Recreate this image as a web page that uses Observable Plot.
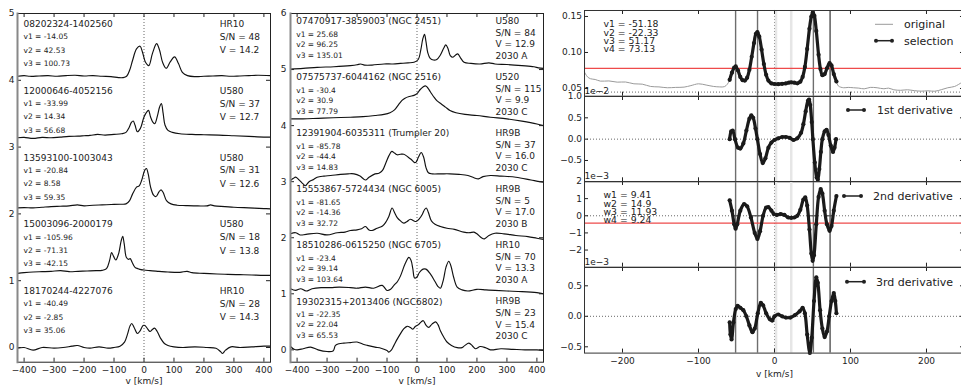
<!DOCTYPE html>
<html><head><meta charset="utf-8">
<script src="https://cdn.jsdelivr.net/npm/d3@7"></script>
<script src="https://cdn.jsdelivr.net/npm/@observablehq/plot@0.6"></script>
<style>
body{margin:0;background:#fff;}
#fig{position:relative;width:961px;height:386px;overflow:hidden;font-family:"DejaVu Sans",sans-serif;background:#fff;}
#fig svg{position:absolute;}
</style></head><body><div id="fig"></div>
<script>
// ---------- tick values ----------
const vTicks = [-400,-300,-200,-100,0,100,200,300,400];
const leftYTicks = [0,1,2,3,4,5];
const midYTicks = [0,1,2,3,4,5,6];
const rightVTicks = [-200,-100,0,100,200];

// ---------- left panel ----------
const leftIds = ["08202324-1402560","12000646-4052156","13593100-1003043","15003096-2000179","18170244-4227076"];
const leftV1 = [-14.05,-33.99,-20.84,-105.96,-40.49];
const leftV2 = [42.53,14.34,8.58,-71.31,-2.85];
const leftV3 = [100.73,56.68,59.35,-42.15,35.06];
const leftSetup = ["HR10","U580","U580","U580","HR10"];
const leftSN = [48,37,31,18,28];
const leftVmag = ["14.2","12.7","12.6","13.8","14.3"];
const leftOffsets = [4,3,2,1,0];

const spec08202324 = [[-422,4.06],[-400,4.07],[-380,4.06],[-350,4.065],[-320,4.07],[-290,4.06],[-260,4.07],[-230,4.075],[-200,4.065],[-170,4.07],[-140,4.06],[-110,4.055],[-85,4.04],[-70,4.04],[-58,4.06],[-48,4.15],[-38,4.3],[-25,4.47],[-13,4.51],[-5,4.42],[5,4.27],[16,4.22],[28,4.4],[42,4.55],[52,4.45],[62,4.27],[74,4.18],[88,4.28],[102,4.35],[115,4.25],[128,4.12],[145,4.07],[170,4.055],[200,4.06],[230,4.065],[260,4.07],[290,4.06],[320,4.065],[350,4.07],[380,4.075],[422,4.07]];
const spec12000646 = [[-422,3.14],[-400,3.145],[-370,3.13],[-340,3.145],[-310,3.14],[-280,3.15],[-250,3.16],[-220,3.165],[-200,3.17],[-180,3.175],[-155,3.19],[-130,3.18],[-100,3.19],[-75,3.2],[-60,3.22],[-50,3.29],[-42,3.37],[-36,3.39],[-30,3.33],[-22,3.23],[-12,3.28],[0,3.45],[10,3.53],[15,3.55],[22,3.45],[30,3.37],[36,3.35],[45,3.47],[52,3.6],[58,3.65],[64,3.5],[70,3.33],[80,3.25],[95,3.22],[120,3.2],[160,3.19],[200,3.185],[250,3.18],[300,3.17],[350,3.16],[400,3.15],[422,3.15]];
const spec13593100 = [[-422,2.09],[-400,2.095],[-370,2.09],[-340,2.1],[-310,2.11],[-280,2.115],[-250,2.12],[-222,2.135],[-200,2.12],[-170,2.13],[-140,2.135],[-110,2.14],[-80,2.145],[-60,2.15],[-48,2.2],[-38,2.3],[-25,2.4],[-16,2.42],[-8,2.5],[2,2.65],[8,2.68],[14,2.6],[22,2.4],[32,2.28],[40,2.26],[50,2.33],[57,2.36],[64,2.32],[75,2.2],[90,2.15],[110,2.13],[140,2.125],[180,2.12],[210,2.12],[222,2.135],[235,2.12],[270,2.11],[300,2.1],[350,2.09],[400,2.08],[422,2.075]];
const spec15003096 = [[-422,1.11],[-400,1.12],[-370,1.13],[-340,1.135],[-310,1.14],[-278,1.15],[-250,1.135],[-220,1.14],[-190,1.145],[-160,1.15],[-140,1.155],[-125,1.18],[-115,1.3],[-108,1.42],[-101,1.36],[-94,1.31],[-85,1.4],[-76,1.6],[-71,1.665],[-66,1.55],[-59,1.35],[-52,1.32],[-46,1.33],[-40,1.28],[-30,1.2],[-20,1.18],[-10,1.165],[0,1.16],[20,1.15],[50,1.14],[80,1.13],[120,1.125],[144,1.14],[160,1.12],[200,1.11],[244,1.1],[280,1.095],[320,1.09],[360,1.085],[400,1.08],[422,1.08]];
const spec18170244 = [[-422,-0.01],[-400,0.0],[-370,-0.04],[-340,0.0],[-300,-0.01],[-270,0.0],[-240,0.02],[-222,0.03],[-200,0.0],[-180,-0.01],[-150,0.01],[-120,-0.01],[-100,0.0],[-80,0.02],[-65,0.08],[-55,0.2],[-47,0.32],[-41,0.36],[-33,0.3],[-22,0.21],[-13,0.25],[-3,0.33],[3,0.33],[12,0.28],[20,0.24],[28,0.27],[35,0.29],[44,0.24],[55,0.14],[68,0.06],[80,0.03],[100,0.01],[130,0.0],[170,0.01],[210,0.0],[240,-0.01],[255,-0.06],[262,-0.09],[272,-0.04],[290,0.01],[320,0.0],[360,0.01],[400,0.02],[422,0.02]];

// ---------- middle panel ----------
const midIds = ["07470917-3859003 (NGC 2451)","07575737-6044162 (NGC 2516)","12391904-6035311 (Trumpler 20)","15553867-5724434 (NGC 6005)","18510286-0615250 (NGC 6705)","19302315+2013406 (NGC6802)"];
const midV1 = [25.68,-30.4,-85.78,-81.65,-23.4,-22.35];
const midV2 = [96.25,30.9,-44.4,-14.36,39.14,22.04];
const midV3 = [135.01,77.79,14.83,32.72,103.64,65.53];
const midSetup = ["U580","U520","HR9B","HR9B","HR10","HR9B"];
const midSN = [84,115,37,5,70,23];
const midVmag = ["12.9","9.9","16.0","17.0","13.3","15.4"];
const midRelease = ["2030 A","2030 C","2030 C","2030 B","2030 A","2030 C"];
const midOffsets = [5,4,3,2,1,0];

const spec07470917 = [[-422,5.01],[-380,5.02],[-333,5.04],[-277,5.05],[-222,5.07],[-200,5.085],[-188,5.1],[-175,5.08],[-150,5.08],[-110,5.1],[-80,5.1],[-55,5.11],[-30,5.12],[-10,5.13],[4,5.18],[13,5.36],[19,5.54],[25,5.63],[30,5.5],[36,5.3],[44,5.2],[55,5.17],[66,5.18],[78,5.26],[89,5.38],[96,5.44],[103,5.38],[111,5.25],[120,5.22],[129,5.26],[136,5.28],[145,5.21],[157,5.13],[180,5.11],[210,5.1],[240,5.12],[260,5.1],[300,5.09],[350,5.07],[390,5.05],[405,5.03],[422,5.02]];
const spec07575737 = [[-422,4.12],[-380,4.12],[-330,4.13],[-280,4.14],[-222,4.15],[-180,4.16],[-140,4.18],[-110,4.2],[-90,4.23],[-75,4.28],[-62,4.37],[-50,4.45],[-40,4.49],[-25,4.52],[-10,4.54],[0,4.57],[10,4.64],[20,4.69],[28,4.71],[35,4.68],[45,4.6],[55,4.52],[67,4.44],[80,4.39],[95,4.33],[110,4.27],[130,4.23],[160,4.2],[200,4.18],[245,4.15],[300,4.12],[350,4.08],[400,4.03],[422,4.0]];
const spec12391904 = [[-422,3.02],[-412,3.06],[-405,3.08],[-395,3.04],[-380,2.96],[-372,2.93],[-360,3.0],[-345,3.04],[-333,3.08],[-310,3.1],[-288,3.11],[-255,3.13],[-230,3.14],[-210,3.14],[-190,3.1],[-172,3.03],[-160,3.08],[-140,3.14],[-127,3.15],[-115,3.2],[-105,3.32],[-94,3.46],[-84,3.54],[-75,3.51],[-66,3.48],[-55,3.49],[-44,3.49],[-30,3.44],[-20,3.4],[-8,3.34],[-3,3.35],[5,3.44],[14,3.52],[22,3.44],[30,3.25],[38,3.16],[50,3.14],[80,3.14],[110,3.14],[140,3.13],[170,3.11],[190,3.07],[205,3.05],[220,3.09],[245,3.11],[280,3.1],[330,3.08],[380,3.03],[410,3.0],[422,2.99]];
const spec15553867 = [[-422,2.07],[-405,2.09],[-390,2.05],[-370,2.06],[-333,2.08],[-300,2.05],[-266,2.09],[-240,2.1],[-222,2.13],[-200,2.14],[-185,2.16],[-172,2.2],[-160,2.14],[-150,2.13],[-133,2.17],[-115,2.21],[-105,2.27],[-94,2.38],[-83,2.53],[-75,2.45],[-66,2.36],[-55,2.3],[-44,2.26],[-33,2.29],[-22,2.33],[-10,2.3],[-3,2.29],[8,2.34],[18,2.42],[25,2.5],[31,2.53],[38,2.45],[48,2.3],[60,2.24],[78,2.2],[100,2.17],[125,2.15],[156,2.1],[175,2.09],[190,2.1],[200,2.07],[215,2.0],[225,1.98],[240,2.04],[260,2.08],[290,2.07],[330,2.04],[370,2.02],[400,1.99],[422,1.97]];
const spec18510286 = [[-422,1.09],[-405,1.06],[-388,1.09],[-370,1.05],[-350,1.09],[-320,1.11],[-288,1.11],[-260,1.12],[-222,1.11],[-200,1.1],[-172,1.12],[-145,1.1],[-116,1.15],[-100,1.06],[-88,1.08],[-77,1.15],[-65,1.22],[-55,1.32],[-40,1.53],[-27,1.65],[-20,1.6],[-14,1.45],[-8,1.28],[0,1.3],[8,1.38],[20,1.44],[30,1.44],[45,1.35],[60,1.22],[70,1.13],[78,1.1],[88,1.25],[97,1.48],[106,1.58],[113,1.5],[122,1.3],[134,1.12],[150,1.07],[170,1.05],[200,1.08],[230,1.07],[260,1.06],[300,1.05],[350,1.04],[400,1.02],[422,1.0]];
const spec19302315 = [[-422,0.06],[-410,0.01],[-400,0.0],[-380,0.02],[-355,0.05],[-330,0.0],[-300,-0.03],[-280,-0.02],[-272,0.08],[-260,0.11],[-244,0.12],[-222,0.13],[-200,0.14],[-180,0.1],[-166,0.08],[-140,0.05],[-120,0.03],[-100,-0.01],[-94,-0.04],[-85,0.0],[-77,0.08],[-65,0.2],[-55,0.29],[-45,0.37],[-33,0.42],[-22,0.4],[-14,0.37],[-5,0.42],[5,0.45],[14,0.5],[21,0.52],[30,0.44],[39,0.4],[50,0.46],[62,0.5],[70,0.45],[78,0.34],[90,0.22],[100,0.14],[115,0.08],[134,0.04],[150,0.04],[160,0.08],[173,0.12],[185,0.07],[195,0.02],[211,0.06],[228,0.04],[245,0.0],[280,0.02],[320,0.01],[360,0.0],[400,0.0],[422,-0.01]];

// ---------- right panel ----------
const vValues = [-51.18,-22.33,51.17,73.13];
const wValues = [9.41,14.9,11.93,9.24];
const lightLines = [2,22];
const fluxThreshold = 0.078;
const secondDerivThreshold = -0.43;
const fluxBaseline = 0.045;
const originalLeft = [[-250,0.0726],[-246,0.066],[-242,0.0635],[-236,0.0625],[-229,0.0602],[-218,0.0605],[-207,0.0588],[-196,0.059],[-185,0.0565],[-174,0.056],[-163,0.0528],[-152,0.0522],[-141,0.051],[-130,0.0515],[-119,0.0519],[-110,0.054],[-100,0.0565],[-90,0.0548],[-80,0.0528],[-72,0.0522],[-66,0.0525],[-62,0.056]];
const selection = [[-59,0.062],[-56,0.072],[-53,0.079],[-51,0.0806],[-48,0.075],[-45,0.066],[-42,0.0615],[-39,0.061],[-36,0.065],[-33,0.076],[-30,0.094],[-27,0.113],[-24.5,0.126],[-22.5,0.1282],[-20,0.122],[-17,0.104],[-14,0.084],[-11,0.069],[-8,0.061],[-4,0.057],[0,0.0562],[5,0.056],[10,0.0565],[15,0.057],[19,0.0582],[22,0.0585],[26,0.058],[30,0.0572],[34,0.0595],[37,0.066],[40,0.08],[43,0.105],[46,0.133],[48.5,0.15],[50.5,0.156],[52.5,0.151],[55,0.13],[58,0.097],[60.5,0.077],[63,0.0685],[66,0.07],[69,0.078],[72.5,0.0852],[75,0.082],[78,0.07],[81.5,0.0597]];
const originalRight = [[84,0.0535],[91,0.051],[97,0.0515],[104,0.051],[111,0.0505],[118,0.0495],[126,0.0515],[135,0.051],[144,0.0496],[150,0.0505],[157,0.0482],[166,0.0475],[175,0.0482],[184,0.047],[193,0.0463],[202,0.0468],[211,0.0462],[220,0.0485],[228,0.051],[237,0.0528],[242,0.0555],[247,0.0588],[250,0.061]];
const deriv1 = [[-59,0.0],[-57,0.18],[-55,0.2],[-52,0.0],[-48,-0.2],[-45,-0.22],[-41,-0.1],[-37,0.2],[-33,0.48],[-30.5,0.56],[-28,0.5],[-25,0.25],[-22.5,0.0],[-19,-0.35],[-15.5,-0.56],[-12,-0.45],[-8,-0.2],[-4,-0.08],[0,-0.02],[5,0.02],[10,0.05],[15,0.05],[20,0.03],[25,-0.02],[30,0.02],[35,0.15],[38,0.35],[41,0.65],[44,0.9],[45.5,0.93],[47,0.8],[49,0.4],[50.5,0.0],[53,-0.55],[55.5,-0.9],[57,-0.95],[59,-0.7],[61,-0.3],[63,0.0],[66,0.18],[68.5,0.22],[71,0.1],[74,-0.15],[77,-0.3],[79,-0.2],[81,0.0]];
const deriv2 = [[-59,0.9],[-56,0.3],[-53,-0.5],[-51.2,-0.75],[-49,-0.5],[-45,0.3],[-40,0.68],[-36,0.55],[-31,-0.1],[-26,-1.0],[-22.5,-1.35],[-19,-0.9],[-15,0.0],[-11,0.48],[-8,0.5],[-4,0.3],[-1,0.1],[3,0.05],[8,0.1],[13,0.05],[18,-0.1],[22,-0.12],[26,-0.1],[30,0.0],[34,0.35],[38,0.95],[40.5,1.07],[43,0.6],[46,-0.8],[48.5,-2.2],[50.2,-2.63],[52,-2.3],[55,-0.5],[58,1.1],[60.8,1.56],[63,1.3],[66,0.3],[69,-0.5],[72.5,-0.88],[75,-0.6],[78,0.3],[81.5,1.15]];
const deriv3 = [[-59,-0.1],[-58,-0.3],[-56.5,-0.38],[-54,-0.1],[-51,0.12],[-48.5,0.17],[-45,0.14],[-41,0.1],[-37,0.0],[-33,-0.15],[-29,-0.26],[-26,-0.2],[-22,0.05],[-18,0.22],[-15,0.18],[-11,0.05],[-6,-0.05],[-3,-0.07],[0,0.0],[5,0.03],[10,0.0],[15,-0.02],[21,-0.02],[27,0.02],[33,0.08],[37,0.14],[40,0.05],[43,-0.3],[46.5,-0.6],[49,-0.35],[52,0.25],[55,0.64],[57,0.55],[60,0.1],[63,-0.2],[66,-0.34],[69,-0.25],[72,0.0],[75,0.25],[78,0.38],[80,0.25],[81.5,0.05]];
const legendLabels = ["original","selection","1st derivative","2nd derivative","3rd derivative"];

// ---------- rendering ----------
const fig = document.getElementById("fig");
const baseStyle = {fontFamily:"DejaVu Sans, sans-serif", fontSize:"9px", background:"transparent", color:"#222", overflow:"visible", maxWidth:"none"};
function place(svg, left, top){ svg.style.left = left+"px"; svg.style.top = top+"px"; fig.appendChild(svg); }
const fmtInt = d3.format("d");
const xy = {x: d => d[0], y: d => d[1]};

function stackPanel(o){
  const pw = 253, mT = 13, mB = 24.3, H = 386, ph = H - mT - mB;
  const marks = [
    Plot.ruleX([0], {stroke:"#555", strokeWidth:0.9, strokeDasharray:"1,2"}),
    ...o.specs.map(s => Plot.line(s, {...xy, curve:"catmull-rom", stroke:"#111", strokeWidth:1.15})),
    Plot.text(o.ids, {frameAnchor:"left", y:(d,i)=>o.offsets[i]+o.idY, dx:o.dxL, text:d=>d, textAnchor:"start", lineAnchor:"middle", fontSize:9, fill:"#222"}),
    ...o.vLines.map((arr,j)=>Plot.text(arr, {frameAnchor:"left", y:(d,i)=>o.offsets[i]+o.vY[j], dx:o.dxL, text:d=>`v${j+1} = ${d}`, textAnchor:"start", lineAnchor:"middle", fontSize:7.5, fill:"#222"})),
    ...o.rLines.map((arr,j)=>Plot.text(arr, {frameAnchor:"right", y:(d,i)=>o.offsets[i]+o.rY[j], dx:o.dxR, text:d=>d, textAnchor:"start", lineAnchor:"middle", fontSize:9, fill:"#222"})),
    Plot.tickX(vTicks, {x:d=>d, insetBottom:ph-4, stroke:"#222"}),
    Plot.tickX(vTicks, {x:d=>d, insetTop:ph-4, stroke:"#222"}),
    Plot.tickY(o.yTicks, {y:d=>d, insetRight:pw-4, stroke:"#222"}),
    Plot.tickY(o.yTicks, {y:d=>d, insetLeft:pw-4, stroke:"#222"}),
    Plot.frame({stroke:"#222"}),
    Plot.frame({anchor:"left", stroke:"#888", strokeWidth:2}),
    Plot.axisX(vTicks, {tickSize:0, tickPadding:4, tickFormat:fmtInt, label:null}),
    Plot.axisY(o.yTicks, {tickSize:0, tickPadding:o.yPad, tickFormat:fmtInt, label:null}),
    Plot.text(["v [km/s]"], {frameAnchor:"bottom", dy:19, lineAnchor:"middle", fontSize:9, fill:"#222"})
  ];
  const svg = Plot.plot({width:o.mL+pw+o.mR, height:H, marginLeft:o.mL, marginRight:o.mR, marginTop:mT, marginBottom:mB,
    x:{domain:[-422,422], axis:null}, y:{domain:o.yDomain, axis:null}, style:baseStyle, marks});
  place(svg, o.left, 0);
}

stackPanel({left:0, mL:17, mR:10, yDomain:[-0.22,5], yTicks:leftYTicks, yPad:3,
  specs:[spec08202324,spec12000646,spec13593100,spec15003096,spec18170244],
  ids:leftIds, offsets:leftOffsets, idY:0.84, dxL:6, vLines:[leftV1,leftV2,leftV3], vY:[0.65,0.45,0.25],
  rLines:[leftSetup, leftSN.map(s=>`S/N = ${s}`), leftVmag.map(v=>`V = ${v}`)], rY:[0.84,0.65,0.45], dxR:-50.7});

stackPanel({left:262, mL:28, mR:10, yDomain:[-0.22,6], yTicks:midYTicks, yPad:4,
  specs:[spec07470917,spec07575737,spec12391904,spec15553867,spec18510286,spec19302315],
  ids:midIds, offsets:midOffsets, idY:0.86, dxL:5.7, vLines:[midV1,midV2,midV3], vY:[0.63,0.45,0.25],
  rLines:[midSetup, midSN.map(s=>`S/N = ${s}`), midVmag.map(v=>`V = ${v}`), midRelease], rY:[0.87,0.65,0.45,0.245], dxR:-48});

function subPlot(o){
  const pw = 380, mL = 84, mR = 6, mT = 10, mB = o.mB, ph = o.h;
  const marks = [
    Plot.ruleX(lightLines, {stroke:"#e6e6e6", strokeWidth:2.5}),
    Plot.ruleX([0], {stroke:"#999", strokeWidth:1, strokeDasharray:"1,2"}),
    Plot.ruleY([o.zero], {stroke:"#666", strokeWidth:1, strokeDasharray:"1,2"}),
    Plot.ruleX(vValues.slice(0,3), {stroke:"#6e6e6e", strokeWidth:1.4}),
    Plot.ruleX(vValues.slice(3), {stroke:"#222", strokeWidth:1.1}),
    ...(o.extra || []),
    ...(o.red !== undefined ? [Plot.ruleY([o.red], {stroke:"#ee4a4a", strokeWidth:1.3})] : []),
    ...(o.orig ? [Plot.line(o.orig, {...xy, curve:"catmull-rom", stroke:"#9a9a9a", strokeWidth:1})] : []),
    Plot.line(o.sel, {...xy, curve:"catmull-rom", stroke:"#1a1a1a", strokeWidth:3.2}),
    Plot.dot(o.sel, {...xy, r:2.1, fill:"#1a1a1a", stroke:"none"}),
    ...(o.note ? [Plot.text([o.note], {frameAnchor:"top-left", dx:19, dy:10.8, lineAnchor:"top", lineHeight:0.9, fontSize:9.3, textAnchor:"start", fill:"#222"})] : []),
    ...(o.exp ? [Plot.text([o.exp], {frameAnchor:"top-left", dy:-5.5, lineAnchor:"middle", textAnchor:"start", fontSize:9, fill:"#222"})] : []),
    Plot.tickX(rightVTicks, {x:d=>d, insetBottom:ph-4, stroke:"#222"}),
    Plot.tickX(rightVTicks, {x:d=>d, insetTop:ph-4, stroke:"#222"}),
    Plot.tickY(o.yTicks, {y:d=>d, insetRight:pw-4, stroke:"#222"}),
    Plot.tickY(o.yTicks, {y:d=>d, insetLeft:pw-4, stroke:"#222"}),
    Plot.frame({stroke:"#333"}),
    Plot.axisY(o.yTicks, {tickSize:0, tickPadding:2.5, tickFormat:d3.format(o.fmt), label:null}),
    ...(o.bottom ? [
      Plot.axisX(rightVTicks, {tickSize:0, tickPadding:4.4, tickFormat:fmtInt, label:null}),
      Plot.text(["v [km/s]"], {frameAnchor:"bottom", dy:20.7, lineAnchor:"middle", fontSize:9, fill:"#222"})
    ] : [])
  ];
  const svg = Plot.plot({width:mL+pw+mR, height:mT+ph+mB, marginLeft:mL, marginRight:mR, marginTop:mT, marginBottom:mB,
    x:{domain:[-250,250], axis:null}, y:{domain:o.yDomain, axis:null}, style:baseStyle, marks});
  place(svg, 500, o.top - mT);
}

const widthSegs = vValues.map((v,i)=>({x1:v - wValues[i]/2, x2:v + wValues[i]/2}));

subPlot({top:10, h:85.7, mB:10, yDomain:[0.0393,0.1583], yTicks:[0.05,0.10,0.15], fmt:".2f", zero:fluxBaseline,
  red:fluxThreshold, orig:[...originalLeft, ...selection, ...originalRight], sel:selection,
  note: vValues.map((v,i)=>`v${i+1} = ${v}`).join("\n")});
subPlot({top:95.7, h:85.3, mB:10, yDomain:[-1,1], yTicks:[-0.5,0,0.5,1.0], fmt:".1f", zero:0, sel:deriv1, exp:"1e\u22122"});
subPlot({top:181, h:85.7, mB:10, yDomain:[-3,2], yTicks:[-2,-1,0,1,2], fmt:"d", zero:0, sel:deriv2, exp:"1e\u22123",
  red:secondDerivThreshold,
  extra:[Plot.link(widthSegs, {x1:"x1", x2:"x2", y1:0, y2:0, stroke:"#555", strokeWidth:1.3})],
  note: wValues.map((w,i)=>`w${i+1} = ${w}`).join("\n")});
subPlot({top:266.7, h:85.6, mB:34, yDomain:[-0.603,0.8], yTicks:[-0.5,0,0.5], fmt:".1f", zero:0, sel:deriv3, exp:"1e\u22123", bottom:true});

// ---------- legends ----------
const leg = d3.select(fig).append("svg").attr("width",961).attr("height",386).style("left","0px").style("top","0px")
  .style("font-family","DejaVu Sans, sans-serif").style("font-size","11px");
const legendItems = [
  {x1:875, x2:893, y:24.3, tx:904, dots:false, stroke:"#9a9a9a", w:1},
  {x1:875, x2:893, y:40.7, tx:904, dots:true, stroke:"#222", w:1.5},
  {x1:847, x2:865, y:110, tx:877, dots:true, stroke:"#222", w:1.5},
  {x1:843, x2:862, y:196, tx:873, dots:true, stroke:"#222", w:1.5},
  {x1:846, x2:865, y:281.7, tx:876, dots:true, stroke:"#222", w:1.5}
];
legendItems.forEach((it,i)=>{
  leg.append("line").attr("x1",it.x1).attr("x2",it.x2).attr("y1",it.y).attr("y2",it.y).attr("stroke",it.stroke).attr("stroke-width",it.w);
  if (it.dots) [it.x1+1, it.x2-1].forEach(cx=>leg.append("circle").attr("cx",cx).attr("cy",it.y).attr("r",2).attr("fill","#222"));
  leg.append("text").attr("x",it.tx).attr("y",it.y).attr("dy","0.35em").attr("fill","#222").text(legendLabels[i]);
});
</script></body></html>
